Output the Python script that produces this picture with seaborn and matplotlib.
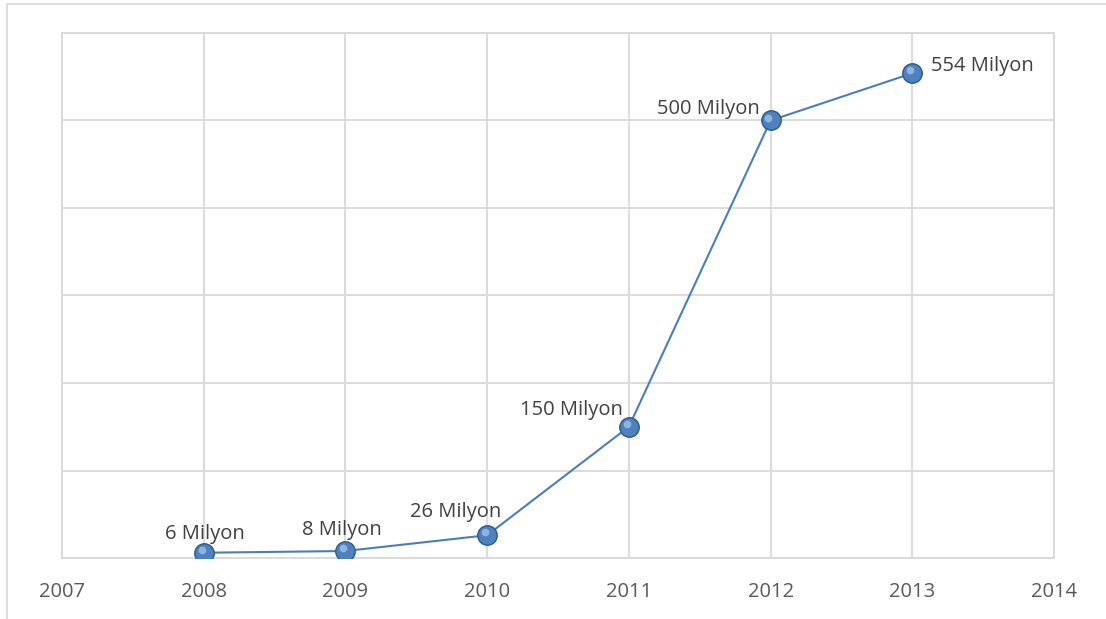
import matplotlib
matplotlib.use("Agg")
import matplotlib.pyplot as plt
import seaborn as sns
import pandas as pd
from matplotlib.patches import Rectangle
from matplotlib.transforms import ScaledTranslation

years = [2008, 2009, 2010, 2011, 2012, 2013]
users = [6, 8, 26, 150, 500, 554]
labels = ["6 Milyon", "8 Milyon", "26 Milyon", "150 Milyon", "500 Milyon", "554 Milyon"]
x_ticks = [2007, 2008, 2009, 2010, 2011, 2012, 2013, 2014]

# label offsets (points) and horizontal alignment for each data label
offsets = [(0.7, 13.7, "center"), (-2.5, 15, "center"), (-23, 16.5, "center"),
           (-4.3, 12, "right"), (-8, 8, "right"), (13.7, 5, "left")]

sns.set_theme(style="white")
plt.rcParams["font.family"] = ["Open Sans", "DejaVu Sans"]

df = pd.DataFrame({"year": years, "users": users})

fig = plt.figure(figsize=(11.06, 6.19), dpi=100)
ax = fig.add_axes([62 / 1106, 1 - 558 / 619, (1054 - 62) / 1106, (558 - 33) / 619])

grid_c = "#d9d9d9"
sns.lineplot(data=df, x="year", y="users", ax=ax, color="#4a7ebb", linewidth=1.5,
             marker="o", markersize=14, markerfacecolor="#4f81bd",
             markeredgecolor="#2c5a8c", markeredgewidth=1.0, zorder=3)
# highlight on the markers
ax.plot(years, users, linestyle="none", marker="o", markersize=5.5,
        markerfacecolor="#9dc3ea", markeredgewidth=0, alpha=0.8, zorder=4,
        transform=ax.transData + ScaledTranslation(-1.5 / 72, 2 / 72, fig.dpi_scale_trans))

ax.set_xlim(2007, 2014)
ax.set_ylim(0, 600)
ax.set_xticks(x_ticks)
ax.set_xticklabels([str(t) for t in x_ticks])
ax.set_yticks(range(0, 601, 100))
ax.set_yticklabels([])
ax.tick_params(axis="y", length=0)
ax.tick_params(axis="x", length=0, pad=17, labelsize=14.5, labelcolor="#595959")
ax.grid(True, color=grid_c, linewidth=1.3)
ax.set_axisbelow(True)
for s in ax.spines.values():
    s.set_color(grid_c)
    s.set_linewidth(1.3)
ax.set_xlabel("")
ax.set_ylabel("")

for x, y, t, (dx, dy, ha) in zip(years, users, labels, offsets):
    ax.annotate(t, (x, y), xytext=(dx, dy), textcoords="offset points",
                ha=ha, va="center", fontsize=14.5, color="#404040", zorder=5)

# outer chart frame
fig.patches.append(Rectangle((7 / 1106, -0.1), 1.2, 1 - 4 / 619 + 0.1,
                             transform=fig.transFigure, fill=False,
                             edgecolor=grid_c, linewidth=1.2))

fig.savefig("out.png", dpi=100)
